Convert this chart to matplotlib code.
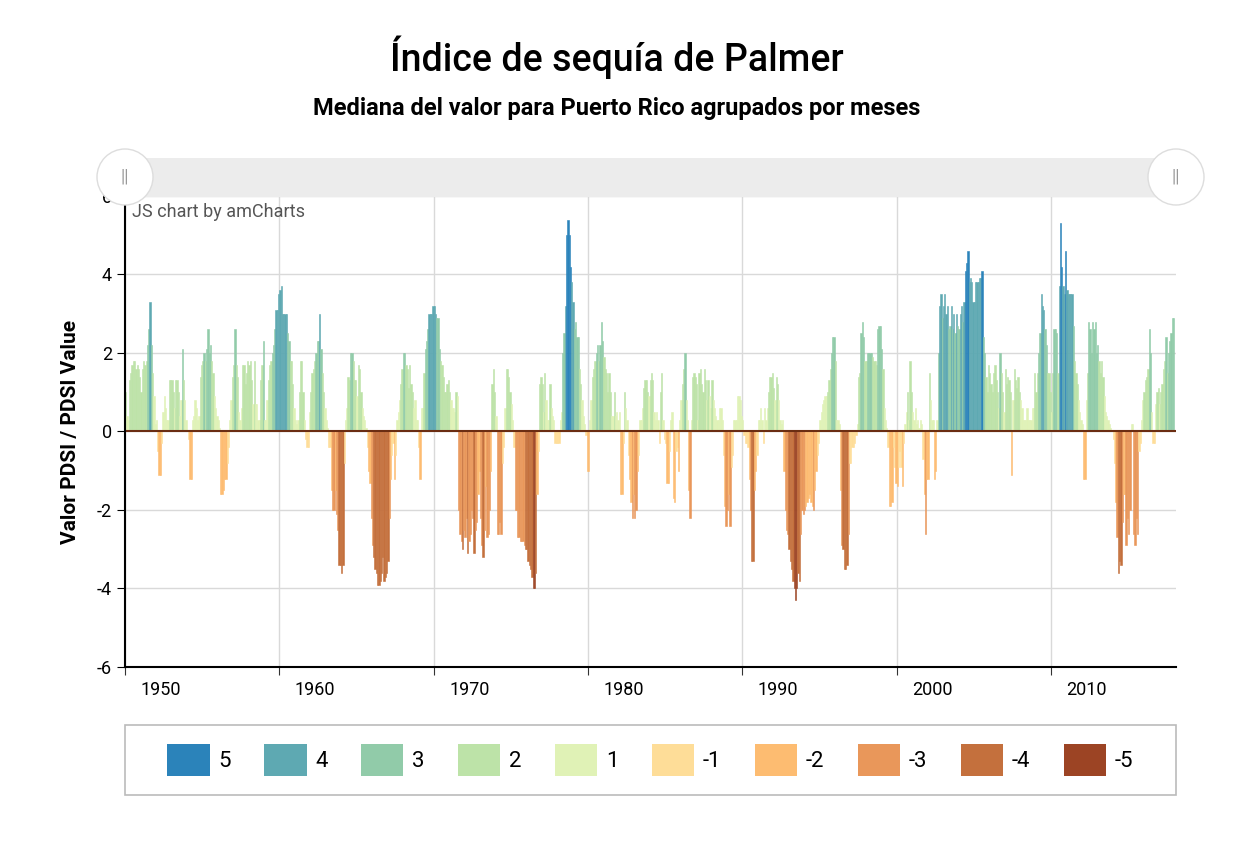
import numpy as np
import matplotlib.pyplot as plt
from matplotlib.patches import Rectangle, Ellipse, Patch

plt.rcParams['font.family'] = ['Roboto', 'DejaVu Sans']
plt.rcParams['axes.unicode_minus'] = False

# monthly median PDSI, one row per year
pdsi_1950s = [
    1.0, 0.4, 0.3, 1.3, 1.5, 1.7, 1.8, 1.8, 1.6, 1.7, 1.6, 1.4,
    1.0, 1.6, 1.8, 1.7, 1.8, 2.2, 2.6, 3.3, 2.2, 1.5, 0.9, 0.2,
    0.3, -0.5, -1.1, -1.1, -0.3, 0.5, 0.9, 0.6, 0.3, 0.3, 1.3, 1.3,
    1.3, 1.0, 0.6, 1.3, 1.3, 1.0, 0.4, 0.8, 2.1, 1.3, 0.8, 0.3,
    0.0, -0.2, -1.2, -1.2, 0.3, 0.4, 0.8, 0.6, 0.3, 0.4, 1.4, 1.7,
    1.8, 2.0, 1.8, 2.1, 2.6, 2.0, 2.2, 1.8, 1.5, 0.9, 0.6, 0.4,
    0.3, 0.1, -1.6, -1.6, -1.5, -1.2, -1.2, -0.8, -0.4, 0.3, 0.8, 1.4,
    1.7, 2.6, 1.7, 1.4, 0.5, 0.3, 0.6, 1.7, 1.7, 1.2, 1.5, 1.8,
    1.7, 1.8, 1.3, 0.7, 1.8, 0.7, 0.7, 0.3, 0.3, 1.3, 1.7, 2.3,
    0.3, 0.3, 0.8, 1.3, 1.7, 1.8, 2.0, 2.2, 2.6, 3.1, 3.1, 3.5,
]
pdsi_1960s = [
    3.6, 3.7, 3.0, 3.0, 3.0, 3.0, 2.5, 2.3, 1.8, 1.8, 1.2, 0.6,
    0.3, 0.2, 0.3, 1.0, 1.8, 1.8, 1.0, 0.3, -0.2, -0.4, -0.4, 0.5,
    1.0, 1.5, 1.6, 1.8, 2.0, 2.3, 2.3, 3.0, 2.1, 1.5, 1.0, 0.6,
    0.3, 0.1, -0.4, -0.4, -1.5, -2.0, -2.0, -1.5, -2.1, -2.5, -3.4, -3.4,
    -3.6, -3.4, -0.8, 0.3, 0.6, 1.4, 1.3, 2.0, 2.0, 1.8, 1.3, 1.3,
    0.9, 1.7, 1.6, 1.0, 0.6, 0.4, 0.3, 0.1, -0.4, -1.0, -1.3, -2.2,
    -2.9, -3.2, -3.5, -3.6, -3.9, -3.9, -3.8, -3.6, -3.2, -3.8, -3.7, -3.6,
    -3.3, -2.2, -1.2, -0.6, -0.3, -1.2, -0.6, 0.3, 0.5, 0.8, 1.2, 1.6,
    2.0, 2.0, 1.7, 1.6, 1.1, 1.7, 1.2, 1.0, 0.6, 0.8, 0.3, 0.3,
    -0.4, -1.2, 0.6, 0.6, 1.5, 2.1, 2.3, 2.6, 3.0, 3.0, 3.0, 3.2,
]
pdsi_1970s = [
    3.2, 3.0, 2.9, 2.9, 2.1, 1.8, 1.7, 1.4, 1.0, 1.0, 1.2, 1.3,
    1.0, 0.8, 0.6, 0.6, 0.5, 1.0, 0.9, -2.0, -2.6, -2.8, -3.0, -2.5,
    -2.7, -2.2, -3.1, -2.8, -2.6, -2.0, -2.2, -3.1, -2.5, -2.3, -1.6, -1.0,
    -2.2, -2.9, -3.2, -2.5, -1.4, -2.7, -2.6, -2.0, -1.0, 1.2, 1.6, 1.0,
    0.4, -2.6, -2.6, -2.3, -2.6, -0.8, -0.4, 0.6, 1.6, 1.6, 1.4, 1.0,
    0.7, 0.3, -0.4, -2.0, -2.0, -2.7, -2.7, -2.8, -2.8, -2.8, -2.9, -3.0,
    -3.0, -3.3, -3.4, -3.5, -3.7, -4.0, -4.0, -3.6, -1.6, -0.5, 1.2, 1.4,
    1.2, 0.5, 1.5, 0.8, 0.3, 0.3, 1.2, 0.6, 0.4, 0.3, -0.3, -0.3,
    -0.3, -0.3, 0.3, 0.5, 2.0, 2.5, 3.2, 5.0, 5.4, 5.0, 4.2, 3.8,
    3.3, 2.6, 2.8, 2.4, 2.4, 1.6, 1.2, 0.8, 0.4, 0.2, -0.1, -1.0,
]
pdsi_1980s = [
    -1.0, 0.3, 0.8, 1.4, 1.6, 1.8, 2.0, 2.2, 1.8, 2.2, 2.8, 2.3,
    1.9, 1.6, 1.5, 1.0, 1.5, 1.0, 0.4, 0.4, 1.0, 0.4, 0.5, 0.3,
    0.5, -1.6, -1.6, -0.3, 1.0, 0.6, 0.3, -0.6, -1.2, -1.8, -2.2, -1.6,
    -2.2, -2.0, -1.0, -0.6, 0.3, 0.3, 0.6, 1.1, 1.3, 1.3, 1.0, 0.9,
    1.3, 1.5, 1.3, 0.5, 0.3, 0.5, 0.3, -0.3, 1.0, 1.5, 0.3, -0.2,
    -0.3, -1.3, -1.3, -0.5, 0.3, 0.5, -1.7, -1.8, -0.5, -0.4, -1.0, 0.3,
    0.8, 1.2, 1.6, 2.0, 0.8, 0.3, -1.5, -2.2, 0.3, 1.4, 1.5, 1.4,
    1.2, 0.3, 1.5, 1.6, 1.2, 1.0, 1.6, 1.3, 0.8, 1.3, 0.9, 0.6,
    1.3, 0.8, 0.6, 0.4, 0.3, 0.3, 0.6, 0.6, 0.3, -0.6, -1.9, -2.4,
    -2.0, -1.6, -2.4, -0.9, -0.6, 0.3, 0.3, 0.3, 0.9, 0.9, 0.8, 0.4,
]
pdsi_1990s = [
    0.3, -0.1, -0.3, -0.3, -0.4, -1.2, -2.0, -3.3, -3.3, -1.5, -1.0, -0.6,
    0.3, 0.3, 0.6, 0.3, -0.3, 0.6, 0.3, 0.6, 1.0, 1.4, 1.4, 1.5,
    1.1, 0.8, 1.4, 1.2, 0.8, 0.3, 0.2, 0.3, -1.0, -2.0, -2.5, -2.6,
    -3.0, -3.3, -3.5, -3.8, -4.0, -4.3, -4.0, -3.6, -3.8, -2.6, -2.0, -2.1,
    -2.0, -1.9, -1.8, -1.7, -1.6, -1.8, -1.9, -2.0, -1.5, -1.0, -0.6, -0.3,
    0.3, 0.5, 0.7, 0.8, 0.9, 0.9, 1.0, 1.3, 1.6, 2.0, 2.4, 2.4,
    1.8, 0.3, 0.3, 0.2, -1.5, -2.9, -3.0, -3.5, -3.5, -3.4, -2.6, -0.8,
    -0.8, -0.4, -0.4, -0.3, -0.1, 0.2, 1.4, 1.5, 2.5, 2.8, 2.4, 1.8,
    1.8, 2.0, 2.0, 2.0, 2.0, 1.9, 1.8, 1.8, 1.7, 2.6, 2.7, 2.7,
    2.1, 1.6, 0.6, 0.3, 0.1, -0.4, -1.9, -1.9, -1.8, -0.4, -0.9, -1.3,
]
pdsi_2000s = [
    -1.4, -0.9, -0.5, -0.9, -1.4, -0.3, 0.2, 0.5, 1.0, 0.3, 1.8, 1.0,
    0.5, 0.3, 0.6, 0.2, 0.3, 0.1, 0.3, 0.2, -0.7, -1.6, -2.6, -1.2,
    -1.2, 1.5, 0.8, 0.3, 0.3, -1.2, -1.0, 0.3, 2.0, 3.2, 3.5, 2.9,
    3.2, 3.5, 3.0, 3.2, 2.6, 2.7, 3.2, 2.6, 3.0, 2.5, 3.0, 2.7,
    2.6, 3.0, 3.2, 2.8, 3.3, 4.1, 4.3, 4.6, 3.8, 3.9, 3.8, 3.3,
    3.3, 3.8, 3.8, 3.8, 3.9, 3.9, 4.1, 2.4, 2.0, 1.4, 1.0, 1.7,
    1.5, 1.2, 1.0, 1.5, 1.7, 1.3, 1.0, 0.6, 2.0, 1.5, 1.0, 0.5,
    1.6, 1.2, 1.4, 1.3, 1.0, -1.1, 0.8, 1.6, 1.3, 1.1, 1.4, 1.0,
    0.8, 0.6, 0.3, 0.3, 0.3, 0.6, 0.3, 0.3, 0.3, 0.6, 0.6, 1.5,
    1.0, 1.5, 2.0, 2.5, 3.5, 3.2, 3.1, 2.6, 2.2, 1.5, 1.5, 1.0,
]
pdsi_2010s = [
    0.5, 1.5, 2.6, 2.6, 2.5, 1.5, 3.7, 5.3, 4.2, 3.7, 3.5, 4.6,
    3.6, 3.5, 3.5, 3.5, 3.5, 2.7, 1.8, 1.5, 1.2, 0.8, 0.5, 0.3,
    0.2, -1.2, -1.2, 0.8, 1.5, 2.8, 2.6, 2.0, 2.8, 2.6, 2.8, 2.0,
    2.2, 1.8, 1.5, 1.8, 1.4, 0.9, 0.5, 0.4, 0.3, 0.2, 0.1, 0.0,
    -0.2, -0.8, -1.8, -2.7, -3.6, -3.3, -3.4, -2.3, -1.6, -1.6, -2.9, -2.2,
    -2.6, -2.0, 0.2, 0.2, -2.6, -2.9, -2.2, -2.6, -0.5, -0.3, 0.3, 0.8,
    1.0, 1.3, 1.4, 1.6, 2.6, 2.0, 0.5, -0.3, -0.3, 0.7, 1.0, 1.1,
    0.7, 1.0, 1.2, 1.6, 1.8, 2.4, 1.5, 2.0, 2.3, 2.5, 2.9, 2.9,
]

class_labels = ['5', '4', '3', '2', '1', '-1', '-2', '-3', '-4', '-5']
class_colors = ['#2b83ba', '#5ea9b2', '#91cba9', '#bde3a8', '#e0f2b6',
                '#fedd98', '#fdbc71', '#e9975a', '#c4703d', '#9c4424']

values = np.array(pdsi_1950s + pdsi_1960s + pdsi_1970s + pdsi_1980s
                  + pdsi_1990s + pdsi_2000s + pdsi_2010s)
dates = 1950 + np.arange(len(values)) / 12.0


def value_color(v):
    if v >= 0:
        idx = 4 - min(int(v), 4)
    else:
        idx = 5 + min(int(-v), 4)
    return class_colors[idx]


colors = [value_color(v) for v in values]

fig = plt.figure(figsize=(12.34, 8.66), dpi=100)
fig.patch.set_facecolor('white')

fig.text(0.5, 1 - 57 / 866, 'Índice de sequía de Palmer', ha='center',
         va='center', fontsize=27, fontweight='medium')
fig.text(0.5, 1 - 108 / 866, 'Mediana del valor para Puerto Rico agrupados por meses',
         ha='center', va='center', fontsize=17, fontweight='bold')

ax = fig.add_axes([125 / 1234, 1 - 667 / 866, 1051 / 1234, 471 / 866])
ax.bar(dates, values, width=1 / 12, align='edge', color=colors,
       edgecolor=colors, linewidth=0.4)

ax.set_xlim(1950, 1950 + 1051 / 15.43)
ax.set_ylim(-6, 6)
ax.set_yticks(np.arange(-6, 7, 2))
ax.set_xticks(np.arange(1950, 2020, 10))
ax.set_xticklabels([])
for yr in range(1950, 2020, 10):
    ax.text(yr + 1.0, -6.35, str(yr), ha='left', va='top', fontsize=13)
ax.tick_params(axis='y', labelsize=13, length=6)
ax.tick_params(axis='x', length=6, color='#333333')
ax.grid(True, color='#d9d9d9', linewidth=1)
ax.set_axisbelow(True)
ax.axhline(0, color='#6b2d12', linewidth=1.5)
for side in ['top', 'right']:
    ax.spines[side].set_visible(False)
ax.spines['left'].set_linewidth(1.5)
ax.spines['bottom'].set_linewidth(1.5)
ax.set_ylabel('Valor PDSI / PDSI Value', fontsize=15, fontweight='bold', labelpad=12)
ax.text(0.007, 0.985, 'JS chart by amCharts', transform=ax.transAxes,
        ha='left', va='top', fontsize=13, color='#555555')

# scrollbar
fig.patches.append(Rectangle((125 / 1234, 1 - 197 / 866), 1051 / 1234, 39 / 866,
                             transform=fig.transFigure, facecolor='#ececec',
                             edgecolor='none'))
for hx in [125, 1176]:
    fig.patches.append(Ellipse((hx / 1234, 1 - 177 / 866), 56 / 1234, 56 / 866,
                               transform=fig.transFigure, facecolor='white',
                               edgecolor='#dddddd', linewidth=1, zorder=3))
    fig.text(hx / 1234, 1 - 177 / 866, '||', ha='center', va='center',
             fontsize=13, color='#999999', zorder=4)

# legend box
handles = [Patch(facecolor=c, edgecolor='none') for c in class_colors]
leg = fig.legend(handles, class_labels, loc='center', ncol=10,
                 bbox_to_anchor=(0.527, 1 - 760 / 866), fontsize=16,
                 frameon=False, handlelength=1.9, handleheight=1.9,
                 columnspacing=1.5, handletextpad=0.4)
fig.patches.append(Rectangle((125 / 1234, 1 - 795 / 866), 1051 / 1234, 70 / 866,
                             transform=fig.transFigure, facecolor='none',
                             edgecolor='#bbbbbb', linewidth=1.2))

fig.savefig('out.png', dpi=100)
